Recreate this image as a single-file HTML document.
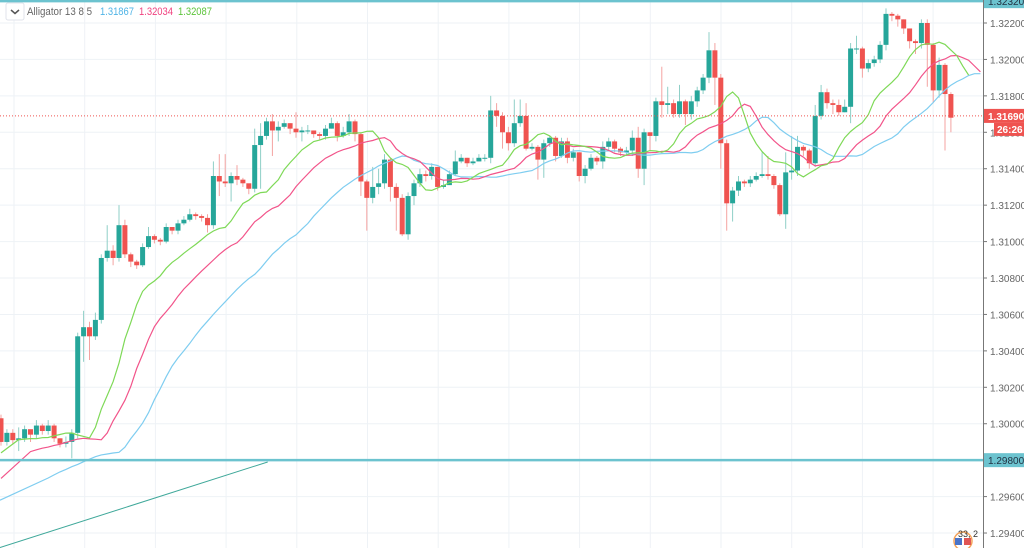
<!DOCTYPE html>
<html><head><meta charset="utf-8"><style>
html,body{margin:0;padding:0;background:#fff;width:1024px;height:548px;overflow:hidden}
svg{display:block;overflow:hidden;font-family:"Liberation Sans",sans-serif}
</style></head><body>
<svg id="chart" width="1024" height="548" viewBox="0 0 1024 548" xmlns="http://www.w3.org/2000/svg">
<g id="grid"></g>
<g id="marks"></g>
<g id="axis"></g>
<g>
<rect x="6" y="3" width="18" height="17" rx="2" fill="#fff" stroke="#e0e3eb"/>
<path d="M11 10 L15 13.5 L19 10" fill="none" stroke="#555" stroke-width="1.5"/>
<text x="27" y="15" font-size="11" fill="#666" textLength="65" lengthAdjust="spacingAndGlyphs">Alligator 13 8 5</text>
<text x="100" y="15" font-size="11" fill="#50b4e6" textLength="34" lengthAdjust="spacingAndGlyphs">1.31867</text>
<text x="139" y="15" font-size="11" fill="#f0417f" textLength="34" lengthAdjust="spacingAndGlyphs">1.32034</text>
<text x="178" y="15" font-size="11" fill="#5cc43a" textLength="34" lengthAdjust="spacingAndGlyphs">1.32087</text>
</g>
</svg>
<script>
const closes=[1.2990,1.2995,1.2991,1.2992,1.2997,1.2994,1.2999,1.2996,1.2999,1.2992,1.2989,1.2990,1.2995,1.3048,1.3053,1.3048,1.3057,1.3091,1.3095,1.3091,1.3109,1.3093,1.3089,1.3087,1.3097,1.3103,1.3101,1.3100,1.3108,1.3106,1.3110,1.3112,1.3115,1.3114,1.3113,1.3109,1.3136,1.3133,1.3132,1.3136,1.3134,1.3132,1.3129,1.3153,1.3158,1.3166,1.3161,1.3163,1.3165,1.3162,1.3160,1.3161,1.3161,1.3159,1.3158,1.3162,1.3165,1.3158,1.3160,1.3166,1.3159,1.3133,1.3124,1.3130,1.3132,1.3145,1.3130,1.3124,1.3104,1.3125,1.3132,1.3137,1.3136,1.3141,1.3130,1.3131,1.3137,1.3144,1.3146,1.3143,1.3144,1.3146,1.3146,1.3172,1.3169,1.3160,1.3154,1.3165,1.3169,1.3151,1.3152,1.3145,1.3154,1.3157,1.3147,1.3155,1.3146,1.3149,1.3136,1.3140,1.3146,1.3144,1.3152,1.3155,1.3151,1.3149,1.3150,1.3157,1.3140,1.3160,1.3158,1.3177,1.3175,1.3176,1.3170,1.3177,1.3170,1.3177,1.3183,1.3190,1.3205,1.3190,1.3154,1.3121,1.3128,1.3133,1.3132,1.3134,1.3136,1.3137,1.3136,1.3131,1.3115,1.3138,1.3139,1.3152,1.3150,1.3143,1.3169,1.3182,1.3176,1.3175,1.3171,1.3174,1.3206,1.3206,1.3195,1.3198,1.3200,1.3208,1.3225,1.3224,1.3222,1.3217,1.3210,1.3209,1.3220,1.3208,1.3183,1.3197,1.3181,1.3168];
const firstOpen=1.3003;
const highs=[1.3005,1.2997,1.2997,1.2998,1.2999,1.2996,1.3002,1.3000,1.3002,1.3000,1.2992,1.2993,1.2997,1.3050,1.3062,1.3056,1.3061,1.3093,1.3109,1.3098,1.3120,1.3112,1.3094,1.3090,1.3099,1.3108,1.3104,1.3102,1.3110,1.3108,1.3112,1.3114,1.3118,1.3116,1.3115,1.3115,1.3144,1.3148,1.3148,1.3138,1.3142,1.3135,1.3131,1.3162,1.3165,1.3168,1.3170,1.3166,1.3167,1.3165,1.3171,1.3163,1.3164,1.3161,1.3160,1.3164,1.3168,1.3166,1.3163,1.3170,1.3167,1.3160,1.3134,1.3141,1.3140,1.3148,1.3146,1.3132,1.3126,1.3127,1.3134,1.3140,1.3139,1.3143,1.3141,1.3134,1.3139,1.3150,1.3148,1.3146,1.3146,1.3148,1.3148,1.3180,1.3176,1.3171,1.3163,1.3178,1.3178,1.3176,1.3154,1.3153,1.3156,1.3158,1.3158,1.3157,1.3157,1.3151,1.3149,1.3142,1.3148,1.3147,1.3155,1.3157,1.3156,1.3152,1.3152,1.3161,1.3163,1.3162,1.3160,1.3179,1.3196,1.3185,1.3178,1.3186,1.3178,1.3180,1.3185,1.3192,1.3215,1.3209,1.3192,1.3156,1.3130,1.3136,1.3134,1.3136,1.3138,1.3149,1.3147,1.3137,1.3132,1.3149,1.3158,1.3158,1.3153,1.3151,1.3175,1.3186,1.3184,1.3178,1.3178,1.3178,1.3209,1.3213,1.3207,1.3200,1.3202,1.3210,1.3228,1.3226,1.3225,1.3222,1.3217,1.3211,1.3222,1.3222,1.3209,1.3201,1.3198,1.3182];
const lows=[1.2988,1.2988,1.2989,1.2985,1.2990,1.2990,1.2992,1.2994,1.2994,1.2990,1.2987,1.2987,1.2981,1.2992,1.3034,1.3035,1.3046,1.3055,1.3089,1.3087,1.3089,1.3091,1.3086,1.3085,1.3086,1.3096,1.3099,1.3098,1.3099,1.3104,1.3104,1.3109,1.3111,1.3112,1.3111,1.3105,1.3107,1.3125,1.3130,1.3122,1.3131,1.3130,1.3126,1.3127,1.3129,1.3156,1.3147,1.3155,1.3162,1.3159,1.3157,1.3155,1.3159,1.3157,1.3156,1.3156,1.3162,1.3155,1.3157,1.3158,1.3155,1.3125,1.3106,1.3121,1.3126,1.3129,1.3122,1.3106,1.3103,1.3101,1.3120,1.3130,1.3133,1.3134,1.3128,1.3129,1.3134,1.3136,1.3143,1.3141,1.3142,1.3144,1.3144,1.3143,1.3163,1.3151,1.3150,1.3152,1.3163,1.3150,1.3150,1.3134,1.3135,1.3152,1.3144,1.3146,1.3143,1.3144,1.3133,1.3132,1.3139,1.3142,1.3140,1.3150,1.3149,1.3147,1.3147,1.3147,1.3135,1.3131,1.3150,1.3155,1.3168,1.3170,1.3168,1.3168,1.3164,1.3167,1.3174,1.3181,1.3187,1.3175,1.3140,1.3106,1.3111,1.3125,1.3130,1.3130,1.3133,1.3135,1.3134,1.3129,1.3114,1.3107,1.3134,1.3136,1.3147,1.3140,1.3141,1.3167,1.3173,1.3170,1.3169,1.3171,1.3165,1.3203,1.3190,1.3193,1.3196,1.3198,1.3205,1.3221,1.3218,1.3214,1.3206,1.3203,1.3206,1.3185,1.3176,1.3179,1.3150,1.3160];
const tickValues=[1.322,1.320,1.318,1.316,1.314,1.312,1.310,1.308,1.306,1.304,1.302,1.300,1.298,1.296,1.294];
const tickLabels=["1.32200","1.32000","1.31800","1.31600","1.31400","1.31200","1.31000","1.30800","1.30600","1.30400","1.30200","1.30000","1.29800","1.29600","1.29400"];
const hLines=[1.3232,1.2980];
const hLineLabels=["1.32320","1.29800"];
const lastPrice=1.3169;
const lastPriceLabel="1.31690";
const countdownLabel="26:26";
const jawSeed=1.2968, teethSeed=1.2983, lipsSeed=1.2990;
const jawLead=[-0.17,1.2958], teethLead=[0,1.2970], lipsLead=[0,1.2984];
const trendStart=[-0.2,1.2932], trendEnd=[45.2,1.2979];

const NS="http://www.w3.org/2000/svg";
const plotRight=983;
function y(p){return 23+(1.322-p)/0.002*36.43;}
function x(i){return 1+5.9*i;}
function mk(tag,attrs,parent){const e=document.createElementNS(NS,tag);for(const k in attrs)e.setAttribute(k,attrs[k]);parent.appendChild(e);return e;}
const grid=document.getElementById('grid'),marks=document.getElementById('marks'),axis=document.getElementById('axis');
tickValues.forEach((v,k)=>{const l=mk('line',{x1:0,x2:plotRight,y1:y(v),y2:y(v),stroke:'#eef2f6','stroke-width':1},grid);

});
for(let gx=14;gx<plotRight;gx+=70.7){const l=mk('line',{x1:gx,x2:gx,y1:0,y2:548,stroke:'#eef2f6','stroke-width':1},grid);

}
const tl=mk('line',{x1:x(trendStart[0]),y1:y(trendStart[1]),x2:x(trendEnd[0]),y2:y(trendEnd[1]),stroke:'#3fa89a','stroke-width':1},marks);


closes.forEach((c,i)=>{const o=i===0?firstOpen:closes[i-1];const up=c>=o;
const col=up?'#26a69a':'#ef5350',wc=up?'#8fcfc7':'#f4a3a1';
const g=mk('g',{},marks);


mk('line',{x1:x(i),x2:x(i),y1:y(highs[i]),y2:y(lows[i]),stroke:wc,'stroke-width':1},g);
const t=y(Math.max(o,c)),b=y(Math.min(o,c));
mk('rect',{x:x(i)-2.5,y:t,width:5,height:Math.max(1,b-t),fill:col},g);});
function smma(n,seed,lead,shift,color,name){let v=seed;const pts=[x(lead[0]).toFixed(1)+','+y(lead[1]).toFixed(1)];
closes.forEach((c,i)=>{const m=(highs[i]+lows[i])/2;v=(v*(n-1)+m)/n;const xi=x(i+shift);if(xi<=plotRight)pts.push(xi.toFixed(1)+','+y(v).toFixed(1));});
const p=mk('polyline',{points:pts.join(' '),fill:'none',stroke:color,'stroke-width':1.2},marks);

}
smma(13,jawSeed,jawLead,8,'#7fcdf0','alligator-jaw');
smma(8,teethSeed,teethLead,5,'#f2548a','alligator-teeth');
smma(5,lipsSeed,lipsLead,3,'#7ed957','alligator-lips');
hLines.forEach((v,k)=>{const l=mk('line',{x1:0,x2:plotRight,y1:y(v),y2:y(v),stroke:'#6cc3cf','stroke-width':2.5},marks);

});
const pl=mk('line',{x1:0,x2:plotRight,y1:y(lastPrice),y2:y(lastPrice),stroke:'#ef5350','stroke-width':1,'stroke-dasharray':'1,2'},marks);


mk('rect',{x:plotRight,y:0,width:41,height:548,fill:'#fff'},axis);
const al=mk('line',{x1:plotRight+0.5,x2:plotRight+0.5,y1:0,y2:548,stroke:'#777','stroke-width':1},axis);


tickValues.forEach((v,k)=>{mk('line',{x1:plotRight,x2:plotRight+4,y1:y(v),y2:y(v),stroke:'#777'},axis);
const t=mk('text',{x:990,y:y(v)+4,'font-size':10,fill:'#666'},axis);t.textContent=tickLabels[k];

});
hLines.forEach((v,k)=>{mk('rect',{x:plotRight+1,y:y(v)-7,width:41,height:14,fill:'#6cc3cf'},axis);
const t=mk('text',{x:988,y:y(v)+4,'font-size':10,fill:'#234'},axis);t.textContent=hLineLabels[k];

});
mk('rect',{x:plotRight+1,y:y(lastPrice)-7,width:41,height:14,fill:'#ef5350'},axis);
const lp=mk('text',{x:988,y:y(lastPrice)+4,'font-size':10,'font-weight':'bold',fill:'#fff'},axis);lp.textContent=lastPriceLabel;


mk('rect',{x:plotRight+11,y:y(lastPrice)+7,width:31,height:13,fill:'#ef5350'},axis);
const cd=mk('text',{x:997,y:y(lastPrice)+17,'font-size':10,'font-weight':'bold',fill:'#fff'},axis);cd.textContent=countdownLabel;


const fb=mk('g',{},axis);


mk('circle',{cx:963,cy:541,r:9,fill:'#fff',stroke:'#f4a35a','stroke-width':1.5},fb);
mk('rect',{x:955,y:538,width:7,height:7,fill:'#4a74c9'},fb);
mk('rect',{x:964,y:538,width:7,height:7,fill:'#e05555'},fb);
const ft=mk('text',{x:958,y:537,'font-size':9,fill:'#333'},fb);ft.textContent="33, 2";
</script>
</body></html>
